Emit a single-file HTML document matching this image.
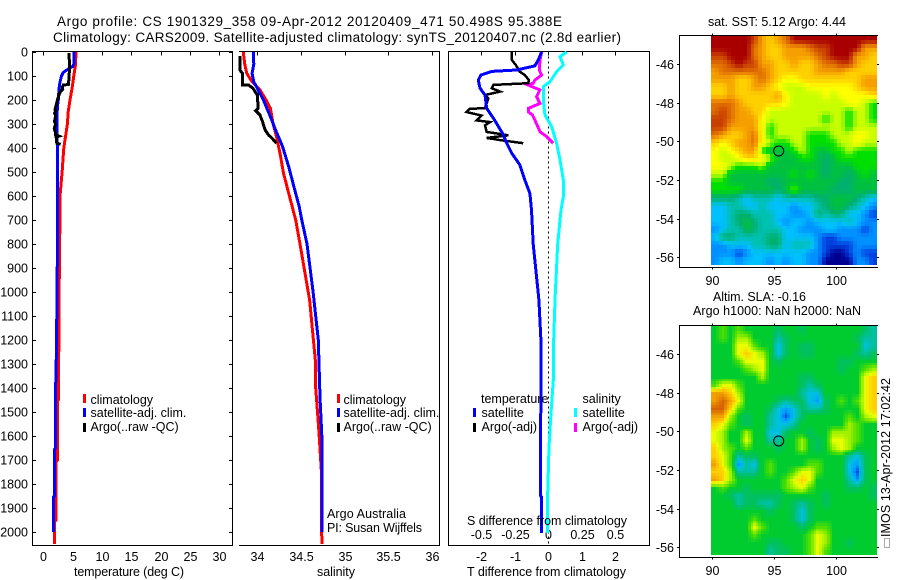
<!DOCTYPE html>
<html>
<head>
<meta charset="utf-8">
<title>Argo profile</title>
<style>
html,body{margin:0;padding:0;background:#fff;width:900px;height:580px;overflow:hidden}
svg{display:block}
text{font-family:"Liberation Sans",sans-serif;font-size:12.5px;fill:#000}
text.big{font-size:13.5px}
</style>
</head>
<body>
<svg id="fig" width="900" height="580" viewBox="0 0 900 580" xmlns="http://www.w3.org/2000/svg">
  <rect x="0" y="0" width="900" height="580" fill="#fff"/>
  <text class="big" x="57" y="26" textLength="505" lengthAdjust="spacing">Argo profile: CS 1901329_358 09-Apr-2012 20120409_471 50.498S 95.388E</text>
  <text class="big" x="53" y="42" textLength="568" lengthAdjust="spacing">Climatology: CARS2009. Satellite-adjusted climatology: synTS_20120407.nc (2.8d earlier)</text>

  <g id="plots"></g>
  <g id="maps"></g>

  <text x="74" y="576" textLength="110" lengthAdjust="spacing">temperature (deg C)</text>
  <text x="317" y="576" textLength="38" lengthAdjust="spacing">salinity</text>
  <text x="467" y="576" textLength="159" lengthAdjust="spacing">T difference from climatology</text>
  <text x="467" y="525" textLength="160" lengthAdjust="spacing">S difference from climatology</text>

  <text x="327" y="518" textLength="79" lengthAdjust="spacing">Argo Australia</text>
  <text x="327" y="532" textLength="95" lengthAdjust="spacing">PI: Susan Wijffels</text>

  <text x="708" y="26" textLength="138" lengthAdjust="spacing">sat. SST: 5.12 Argo: 4.44</text>
  <text x="713" y="301" textLength="93" lengthAdjust="spacing">Altim. SLA: -0.16</text>
  <text x="693" y="315" textLength="168" lengthAdjust="spacing">Argo h1000: NaN h2000: NaN</text>

  <rect x="884.5" y="538.5" width="5" height="9" fill="none" stroke="#555" stroke-width="1" stroke-dasharray="1 1" shape-rendering="crispEdges"/>
  <text transform="translate(890,537) rotate(-90)" textLength="159" lengthAdjust="spacing">IMOS 13-Apr-2012 17:02:42</text>
</svg>
<script>
// ---------- profile data ----------
const depthTicks = [0,100,200,300,400,500,600,700,800,900,1000,1100,1200,1300,1400,1500,1600,1700,1800,1900,2000];
const tempTicks = [0,5,10,15,20,25,30];
const salTicks = [34,34.5,35,35.5,36];
const salTickLabels = ['34','34.5','35','35.5','36'];
const diffTTicks = [-2,-1,0,1,2];
const diffSTicks = [-0.5,-0.25,0,0.25,0.5];
const diffSTickLabels = ['-0.5','-0.25','0','0.25','0.5'];

const tempClimDepth = [0,50,100,150,200,250,300,350,400,500,600,800,1000,1200,1400,1450,1455,1650,1700,1705,1800,1900,1950,1955,2050];
const tempClimValue = [5.55,5.5,5.2,4.9,4.55,4.25,4.1,3.8,3.5,3.2,2.85,2.8,2.7,2.65,2.55,2.55,2.4,2.4,2.4,2.2,2.2,2.2,2.2,1.9,1.9];
const tempSatDepth = [0,50,60,75,85,100,125,150,200,225,300,400,600,800,1000,1300,1400,1650,1655,1850,1855,2000];
const tempSatValue = [5.2,5.2,5,4,3.4,3.1,2.85,2.7,2.55,2.4,2.3,2.4,2.4,2.4,2.35,2.2,2.1,2.1,1.9,1.9,1.7,1.7];
const tempArgoDepth = [5,25,50,100,135,138,150,155,170,200,240,245,255,265,290,300,320,335,345,351,355,380,385];
const tempArgoValue = [4.4,4.4,4.5,4.4,4.3,3.4,3.2,3.3,2.8,2.4,2.0,2.15,1.9,2.1,1.9,2.1,1.85,2.1,2.1,2.7,2.2,2.3,2.95];

const salClimDepth = [0,50,89,124,158,200,235,297,353,422,505,603,700,800,1033,1300,1400,1500,1600,1750,2050];
const salClimValue = [33.84,33.855,33.88,33.94,34.03,34.1,34.15,34.18,34.22,34.26,34.3,34.37,34.44,34.49,34.6,34.67,34.67,34.69,34.71,34.735,34.74];
const salSatDepth = [0,50,89,124,158,200,269,325,394,478,561,644,700,800,1000,1200,1450,1500,1600,2000];
const salSatValue = [33.954,33.96,33.94,33.96,34.01,34.07,34.15,34.21,34.29,34.36,34.42,34.48,34.51,34.57,34.64,34.7,34.72,34.727,34.74,34.74];
const salArgoDepth = [16,75,89,137,138,151,179,235,244,262,290,325,346,360,380];
const salArgoValue = [33.8,33.8,33.83,33.83,33.9,33.95,34.0,34.01,33.98,34.03,34.06,34.09,34.13,34.17,34.22];

const diffTSatDepth = [0,33,58,75,81,96,117,151,179,235,276,338,380,422,470,533,589,658,800,1033,1200,1850,1855,2004];
const diffTSatValue = [-0.2,-0.3,-0.4,-0.95,-1.69,-2.01,-2.09,-2.04,-1.89,-1.84,-1.64,-1.37,-1.24,-1.09,-0.85,-0.7,-0.55,-0.5,-0.45,-0.28,-0.22,-0.23,-0.2,-0.2];
const diffTArgoDepth = [0,33,54,82,96,117,130,137,151,165,179,193,235,236,250,265,285,292,306,333,347,358,367,380];
const diffTArgoValue = [-1.09,-1.09,-0.97,-0.85,-0.7,-0.58,-0.6,-1.64,-1.69,-1.44,-1.89,-1.79,-1.89,-2.34,-2.44,-1.99,-2.14,-1.74,-1.89,-1.84,-1.19,-1.84,-1.44,-0.75];
const diffSSatDepth = [0,19,54,82,124,144,200,262,311,380,450,533,603,658,800,1033,1200,1367,1504,1646,1854,2004];
const diffSSatValue = [0.137,0.087,0.112,0.062,0.012,-0.037,-0.037,-0.025,0.025,0.062,0.087,0.112,0.112,0.095,0.07,0.05,0.04,0.037,0.02,0.005,-0.005,-0.0075];
const diffSArgoDepth = [0,33,75,96,117,130,137,158,186,214,235,249,262,290,332,353,380];
const diffSArgoValue = [-0.05,-0.062,-0.067,-0.05,-0.1,-0.112,-0.154,-0.062,-0.087,-0.062,-0.149,-0.149,-0.119,-0.095,-0.062,-0.012,0.037];

// ---------- map data (level indices into the colour scales) ----------
const mapLonTicks = [90,95,100];
const mapLatTicks = [-46,-48,-50,-52,-54,-56];
const floatLon = 95.388;
const floatLat = -50.498;
const sstValues = [
[0,0,0,0,0,1,3,4,3,2,0,0,0,0,0,0,0,0,0,0,0],
[0,0,0,0,0,2,3,4,4,3,3,3,2,1,1,0,0,0,0,3,3],
[1,1,0,0,0,2,3,4,4,3,3,3,3,2,1,0,0,0,3,3,4],
[2,2,1,0,1,1,3,3,4,4,3,4,4,3,2,2,1,1,3,4,4],
[3,2,2,2,2,2,2,3,4,4,4,4,4,3,3,3,3,4,4,4,4],
[3,3,3,4,4,3,2,3,4,5,5,4,4,4,4,4,4,4,4,3,3],
[4,4,3,4,4,3,3,4,5,6,6,6,5,5,5,5,5,5,4,3,3],
[4,4,3,4,4,4,4,4,3,5,6,6,6,6,5,6,5,5,5,5,4],
[2,2,2,3,4,4,4,4,4,5,6,6,6,6,6,6,6,5,5,6,7],
[2,1,2,3,3,4,4,6,6,6,6,6,6,6,6,6,6,7,6,6,7],
[1,1,2,3,3,3,5,6,6,6,6,6,6,6,7,6,6,7,6,6,7],
[1,1,3,3,3,3,5,7,6,6,6,6,6,6,6,6,6,7,6,6,6],
[2,3,4,4,3,2,5,7,6,6,6,6,7,7,7,6,6,6,5,5,6],
[4,5,4,3,3,2,5,6,7,7,6,6,7,7,7,7,6,6,5,6,6],
[5,6,5,4,3,3,7,8,8,8,7,6,7,8,8,7,7,6,7,7,7],
[5,6,6,5,4,4,5,6,8,8,8,7,7,8,9,8,7,7,7,7,7],
[5,5,6,7,7,7,6,8,8,8,8,8,8,8,9,8,8,8,7,7,7],
[6,6,8,8,8,8,8,8,8,8,7,8,7,8,9,8,8,9,8,7,8],
[7,7,8,8,8,8,8,9,9,8,8,8,8,8,8,8,9,9,8,8,8],
[7,7,7,7,8,8,8,8,9,8,6,8,8,8,8,9,9,9,8,8,8],
[9,9,9,10,11,10,10,10,11,10,10,10,10,9,9,8,8,8,9,10,11],
[11,11,10,10,11,11,10,11,11,11,12,11,11,10,9,8,8,9,10,11,12],
[11,11,10,9,9,10,10,10,11,11,12,12,11,9,10,9,9,11,11,12,13],
[11,11,10,9,8,9,10,10,11,12,11,11,12,11,11,11,11,10,11,12,12],
[12,11,10,10,8,9,10,10,10,11,11,12,12,12,11,11,12,12,12,13,12],
[11,9,9,10,10,10,10,9,9,11,11,11,11,12,13,13,12,12,12,12,12],
[12,12,11,11,11,10,10,9,9,11,10,10,10,12,13,13,13,13,12,12,12],
[12,12,12,13,12,11,11,11,11,11,11,11,12,12,13,14,14,13,12,13,13],
[12,11,11,12,11,11,11,12,11,12,11,11,12,12,14,14,14,14,12,12,13]
];
const slaValues = [
[6,5,6,5,6,6,6,6,7,6,6,7,6,6,6,6,6,6,6,7,8],
[6,5,6,4,4,6,6,6,8,7,6,6,6,6,6,6,6,6,7,8,8],
[6,6,6,3,3,5,6,6,9,7,6,7,7,6,6,6,6,6,6,9,8],
[6,6,6,3,2,3,4,6,9,7,6,7,7,6,6,6,6,6,7,8,7],
[6,6,6,5,3,3,3,6,7,6,6,6,6,6,6,6,7,7,6,6,6],
[6,6,6,6,5,4,3,6,6,6,6,6,6,6,6,6,7,6,6,5,4],
[6,6,6,6,6,6,4,6,6,6,6,7,7,6,6,6,6,6,6,3,2],
[5,3,3,5,6,6,6,6,6,6,6,7,8,7,6,6,6,6,6,3,2],
[1,1,2,4,6,6,6,6,6,6,6,8,9,9,6,6,6,6,6,3,2],
[1,0,1,3,6,6,6,6,7,8,7,7,9,10,7,6,5,6,5,3,2],
[0,0,2,5,6,6,6,7,9,10,9,7,8,8,7,6,6,6,6,3,2],
[1,1,4,6,7,6,6,8,9,11,9,7,6,6,6,6,6,5,6,4,3],
[2,3,5,6,7,6,6,8,9,9,8,6,6,6,6,6,6,4,5,6,6],
[3,4,6,6,4,6,6,9,9,7,6,6,7,6,6,4,4,4,5,6,6],
[3,4,6,6,3,6,6,8,8,6,6,4,6,7,6,3,3,4,5,6,6],
[2,4,5,6,5,6,6,6,7,6,6,4,6,7,6,4,3,4,6,6,6],
[2,3,5,8,7,7,6,6,6,6,6,6,6,6,6,6,6,8,9,7,6],
[1,3,5,10,8,9,6,5,6,6,6,6,5,5,6,6,6,9,10,7,6],
[2,2,4,8,8,8,6,5,6,6,5,3,3,5,6,6,6,9,11,7,6],
[1,2,4,6,6,6,6,6,6,5,3,2,3,6,6,6,6,8,10,7,6],
[6,5,6,6,7,6,6,6,6,5,4,3,5,6,6,6,6,7,7,6,7],
[6,6,7,8,7,7,7,7,7,6,6,6,6,6,7,6,6,6,6,6,7],
[6,6,6,8,7,7,8,8,7,6,7,8,7,6,7,6,6,6,6,6,6],
[6,6,6,6,6,6,6,7,6,6,7,9,7,6,6,6,6,6,6,6,6],
[6,6,6,6,6,5,6,6,6,6,7,9,7,6,6,6,6,6,6,6,6],
[6,6,6,6,6,3,5,6,6,6,6,7,6,5,5,6,6,6,6,6,6],
[6,6,6,6,6,5,6,6,6,6,6,6,5,3,4,6,6,6,6,6,6],
[6,6,6,6,6,6,6,7,7,6,6,6,5,3,4,6,6,7,6,6,6],
[6,6,6,6,6,6,6,8,7,7,6,6,5,3,5,6,6,6,6,6,6]
];

// ---------- helpers ----------
const NS = 'http://www.w3.org/2000/svg';
function make(parent, tag, attrs) {
  const el = document.createElementNS(NS, tag);
  for (const k in attrs) el.setAttribute(k, attrs[k]);
  parent.appendChild(el);
  return el;
}
function addText(parent, str, x, y, anchor) {
  const el = make(parent, 'text', {x: x, y: y, 'text-anchor': anchor || 'start'});
  el.textContent = str;
  return el;
}
function hLine(parent, x1, x2, y) {
  return make(parent, 'line', {x1: x1, x2: x2, y1: y, y2: y, stroke: '#000', 'stroke-width': 1, 'shape-rendering': 'crispEdges'});
}
function vLine(parent, x, y1, y2) {
  return make(parent, 'line', {x1: x, x2: x, y1: y1, y2: y2, stroke: '#000', 'stroke-width': 1, 'shape-rendering': 'crispEdges'});
}

// ---------- axis functions ----------
const yDepth = d => 52 + d * 0.24;
const xTemp = t => 43.3 + t * 5.87;
const xSal = s => 257.3 + (s - 34) * 87.2;
const xDiffT = t => 548.3 + t * 33.5;
const xDiffS = s => 548.3 + s * 134;

const plots = document.getElementById('plots');
const maps = document.getElementById('maps');

function drawSeries(depths, values, xFn, color, width, name) {
  const pts = depths.map((d, i) => xFn(values[i]).toFixed(1) + ',' + yDepth(d).toFixed(1)).join(' ');
  const el = make(plots, 'polyline', {points: pts, fill: 'none', stroke: color, 'stroke-width': width, 'stroke-linejoin': 'miter', 'shape-rendering': 'crispEdges'});
  
  
  return el;
}
function swatch(x, y, color, name) {
  const el = make(plots, 'rect', {x: x, y: y, width: 3, height: 9, fill: color, 'shape-rendering': 'crispEdges'});
  
  
}

// ---------- frames ----------
const yTop = 51.5, yBot = 545.5;
// temperature panel
{
  const g = make(plots, 'g', {});
  
  
  hLine(g, 32, 233, yTop); hLine(g, 32, 233, yBot);
  vLine(g, 32.5, yTop, yBot); vLine(g, 232.5, yTop, yBot);
  depthTicks.forEach(d => {
    const y = Math.round(yDepth(d)) + 0.5;
    hLine(g, 32, 36, y); hLine(g, 229, 233, y);
    addText(g, String(d), 28, y + 4, 'end');
  });
  tempTicks.forEach(t => {
    const x = Math.round(xTemp(t)) + 0.5;
    vLine(g, x, yTop, yTop + 4);
    addText(g, String(t), x, 561, 'middle');
  });
}
// salinity panel
{
  const g = make(plots, 'g', {});
  
  
  hLine(g, 239, 440, yTop); hLine(g, 239, 440, yBot);
  vLine(g, 439.5, yTop, yBot);
  salTicks.forEach((s, i) => {
    const x = Math.round(xSal(s)) + 0.5;
    vLine(g, x, yTop, yTop + 4);
    addText(g, salTickLabels[i], x, 561, 'middle');
  });
}
// difference panel
{
  const g = make(plots, 'g', {});
  
  
  hLine(g, 448, 650, yTop); hLine(g, 448, 650, yBot);
  vLine(g, 448.5, yTop, yBot); vLine(g, 649.5, yTop, yBot);
  diffTTicks.forEach(t => {
    const x = Math.round(xDiffT(t)) + 0.5;
    vLine(g, x, yTop, yTop + 4);
    addText(g, String(t), x, 561, 'middle');
  });
  diffSTicks.forEach((s, i) => {
    addText(g, diffSTickLabels[i], Math.round(xDiffS(s)) + 0.5, 539, 'middle');
  });
  const zero = make(g, 'line', {x1: 548.5, x2: 548.5, y1: yTop, y2: yBot, stroke: '#000', 'stroke-width': 1, 'stroke-dasharray': '2 3', 'shape-rendering': 'crispEdges'});
  
  
}

// ---------- series ----------
drawSeries(tempClimDepth, tempClimValue, xTemp, '#ff0000', 3, 'temperature-climatology-line');
drawSeries(tempSatDepth, tempSatValue, xTemp, '#0000ff', 3, 'temperature-satellite-line');
drawSeries(tempArgoDepth, tempArgoValue, xTemp, '#000000', 3, 'temperature-argo-line');
drawSeries(salClimDepth, salClimValue, xSal, '#ff0000', 3, 'salinity-climatology-line');
drawSeries(salSatDepth, salSatValue, xSal, '#0000ff', 3, 'salinity-satellite-line');
drawSeries(salArgoDepth, salArgoValue, xSal, '#000000', 3, 'salinity-argo-line');
drawSeries(diffSSatDepth, diffSSatValue, xDiffS, '#00ffff', 3, 'salinity-difference-satellite-line');
drawSeries(diffSArgoDepth, diffSArgoValue, xDiffS, '#ff00ff', 3, 'salinity-difference-argo-line');
drawSeries(diffTArgoDepth, diffTArgoValue, xDiffT, '#000000', 2.5, 'temperature-difference-argo-line');
drawSeries(diffTSatDepth, diffTSatValue, xDiffT, '#0000ff', 3, 'temperature-difference-satellite-line');

// ---------- legends ----------
swatch(83, 394, '#ff0000', 'temperature-legend-climatology-swatch');
swatch(83, 408, '#0000ff', 'temperature-legend-satellite-swatch');
swatch(83, 423, '#000000', 'temperature-legend-argo-swatch');
addText(plots, 'climatology', 90.5, 404);
addText(plots, 'satellite-adj. clim.', 90.5, 417);
addText(plots, 'Argo(..raw -QC)', 90.5, 431);
swatch(337, 394, '#ff0000', 'salinity-legend-climatology-swatch');
swatch(337, 408, '#0000ff', 'salinity-legend-satellite-swatch');
swatch(337, 423, '#000000', 'salinity-legend-argo-swatch');
addText(plots, 'climatology', 343.5, 404);
addText(plots, 'satellite-adj. clim.', 343.5, 417);
addText(plots, 'Argo(..raw -QC)', 343.5, 431);
addText(plots, 'temperature', 481, 403);
swatch(473, 408, '#0000ff', 'difference-legend-temperature-satellite-swatch');
swatch(473, 423, '#000000', 'difference-legend-temperature-argo-swatch');
addText(plots, 'satellite', 481.5, 417);
addText(plots, 'Argo(-adj)', 481.5, 431);
addText(plots, 'salinity', 582.5, 403);
swatch(574, 408, '#00ffff', 'difference-legend-salinity-satellite-swatch');
swatch(574, 423, '#ff00ff', 'difference-legend-salinity-argo-swatch');
addText(plots, 'satellite', 582.5, 417);
addText(plots, 'Argo(-adj)', 582.5, 431);

// ---------- maps ----------
const sstPalette = ['#a80000','#c84000','#e07000','#f5a000','#ffd000','#ffff00','#c8ff00','#00e000','#00c040','#00b070','#00c0b0','#00c0ff','#0090ff','#0040e0','#000090'];
const slaPalette = ['#d86000','#f0a000','#ffd000','#e8ff00','#a0f000','#50e000','#00cc30','#00c060','#00c0a0','#00c0e0','#00a0ff','#0050e0'];
function rgb(hex) { return [1,3,5].map(i => parseInt(hex.substr(i,2),16)); }
function colorAt(palette, v) {
  const lo = Math.max(0, Math.min(palette.length - 1, Math.floor(v)));
  const hi = Math.min(palette.length - 1, lo + 1);
  const f = Math.max(0, Math.min(1, v - lo));
  const a = rgb(palette[lo]), b = rgb(palette[hi]);
  return 'rgb(' + a.map((c, i) => Math.round(c + (b[i] - c) * f)).join(',') + ')';
}
function sample(grid, r, c) {
  const nr = grid.length, nc = grid[0].length;
  const rr = Math.max(0, Math.min(nr - 1, r)), cc = Math.max(0, Math.min(nc - 1, c));
  const r0 = Math.floor(rr), c0 = Math.floor(cc);
  const r1 = Math.min(nr - 1, r0 + 1), c1 = Math.min(nc - 1, c0 + 1);
  const fr = rr - r0, fc = cc - c0;
  return grid[r0][c0]*(1-fr)*(1-fc) + grid[r0][c1]*(1-fr)*fc + grid[r1][c0]*fr*(1-fc) + grid[r1][c1]*fr*fc;
}
const xLon = lon => 712.3 + (lon - 90) * 12.32;
function drawMap(name, grid, palette, yOffset, sub) {
  const yLat = lat => yOffset + 64 + (-46 - lat) * 19.33;
  const g = make(maps, 'g', {});
  
  
  const left = 711, right = 877, top = yOffset + 36, bottom = yOffset + 265;
  const nr = grid.length, nc = grid[0].length;
  const cw = (right - left) / nc, ch = (bottom - top) / nr;
  const cells = make(g, 'g', {'shape-rendering': 'crispEdges'});
  
  
  for (let r = 0; r < nr * sub; r++) {
    for (let c = 0; c < nc * sub; c++) {
      const v = sample(grid, (r + 0.5) / sub - 0.5, (c + 0.5) / sub - 0.5);
      const x0 = Math.round(left + c * cw / sub), x1 = Math.round(left + (c + 1) * cw / sub);
      const y0 = Math.round(top + r * ch / sub), y1 = Math.round(top + (r + 1) * ch / sub);
      make(cells, 'rect', {x: x0, y: y0, width: x1 - x0, height: y1 - y0, fill: colorAt(palette, v)});
    }
  }
  const yT = yOffset + 35.5, yB = yOffset + 267.5;
  hLine(g, 679, 878, yT); hLine(g, 679, 878, yB);
  vLine(g, 679.5, yT, yB);
  mapLonTicks.forEach(lon => {
    const x = Math.round(xLon(lon)) + 0.5;
    vLine(g, x, yT - 2, yT);
    vLine(g, x, yB, yB + 2);
    addText(g, String(lon), x, yOffset + 285, 'middle');
  });
  mapLatTicks.forEach(lat => {
    const y = Math.round(yLat(lat)) + 0.5;
    hLine(g, 677, 679, y);
    hLine(g, 877, 879, y);
    addText(g, String(lat), 674, y + 4.5, 'end');
  });
  const marker = make(g, 'circle', {cx: xLon(floatLon), cy: yLat(floatLat), r: 5, fill: 'none', stroke: '#000', 'stroke-width': 1});
  
  
}
drawMap('sst-map', sstValues, sstPalette, 0, 2);
drawMap('sla-map', slaValues, slaPalette, 290, 3);
</script>
</body>
</html>
